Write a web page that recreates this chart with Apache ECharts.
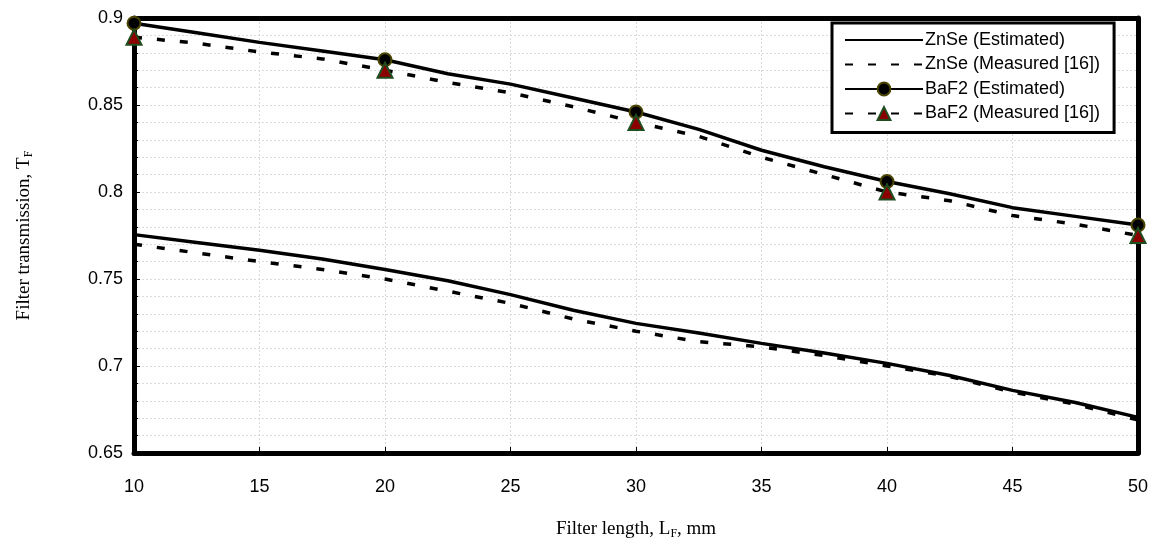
<!DOCTYPE html>
<html>
<head>
<meta charset="utf-8">
<script src="https://cdn.jsdelivr.net/npm/echarts@6/dist/echarts.min.js"></script>
<style>
  html, body { margin: 0; padding: 0; background: #fff; }
  #main { width: 1152px; height: 547px; }
</style>
</head>
<body>
<div id="main"></div>
<script>
// filter length, mm
const lengths = [10, 12.5, 15, 17.5, 20, 22.5, 25, 27.5, 30, 32.5, 35, 37.5, 40, 42.5, 45, 47.5, 50];
// filter transmission
const znseEst  = [0.7755, 0.771, 0.7665, 0.7615, 0.7555, 0.749, 0.741, 0.732, 0.7245, 0.719, 0.713, 0.7075, 0.7015, 0.6945, 0.686, 0.679, 0.6705];
const znseMeas = [0.770, 0.765, 0.760, 0.7555, 0.750, 0.743, 0.736, 0.727, 0.720, 0.714, 0.711, 0.706, 0.700, 0.694, 0.685, 0.678, 0.669];
const baf2Est  = [0.897, 0.8915, 0.886, 0.881, 0.876, 0.868, 0.862, 0.854, 0.846, 0.836, 0.824, 0.8145, 0.806, 0.799, 0.791, 0.786, 0.781];
const baf2Meas = [0.889, 0.8855, 0.8805, 0.8765, 0.870, 0.863, 0.857, 0.849, 0.840, 0.832, 0.820, 0.810, 0.800, 0.795, 0.7865, 0.7815, 0.775];
// markers only at these lengths
const markerAt = [10, 20, 30, 40, 50];

const sansFont = "'Liberation Sans', Arial, sans-serif";
const serifFont = "'Liberation Serif', 'Times New Roman', serif";

function pts(vals, marked) {
    return lengths.map(function (x, i) {
        if (marked && markerAt.indexOf(x) >= 0) return [x, vals[i]];
        return { value: [x, vals[i]], symbol: 'none' };
    });
}

let myChart = echarts.init(document.getElementById('main'));
const gridLine = { show: true, lineStyle: { color: '#dadada', type: [2, 2], width: 1 } };
const frame = { show: true, onZero: false, lineStyle: { color: '#000', width: 5 } };
const nameRich = {
    n: { fontFamily: serifFont, fontSize: 19, color: '#000' },
    s: { fontFamily: serifFont, fontSize: 12, color: '#000', padding: [9, 0, 0, 0] }
};
const hideIcon = { opacity: 0 };

myChart.setOption({
    animation: false,
    backgroundColor: '#fff',
    grid: { left: 134, right: 14, top: 18, bottom: 94 },
    legend: {
        orient: 'vertical',
        left: 832, top: 23,
        padding: [8, 14, 10, 12],
        itemWidth: 78, itemHeight: 16, itemGap: 6.5,
        backgroundColor: '#fff',
        borderColor: '#000', borderWidth: 3,
        textStyle: { fontFamily: sansFont, fontSize: 18, color: '#000', padding: [0, 0, 0, -3] },
        data: [
            { name: 'ZnSe (Estimated)', itemStyle: hideIcon },
            { name: 'ZnSe (Measured [16])', itemStyle: hideIcon },
            'BaF2 (Estimated)',
            'BaF2 (Measured [16])'
        ]
    },
    xAxis: [{
        type: 'value', min: 10, max: 50, interval: 5,
        name: '{n|Filter length, L}{s|F}{n|, mm}',
        nameLocation: 'middle', nameGap: 66,
        nameTextStyle: { rich: nameRich },
        axisLine: frame,
        axisTick: { show: true, inside: true, length: 6, lineStyle: { color: '#000' } },
        axisLabel: { fontFamily: sansFont, fontSize: 18, color: '#000', margin: 25 },
        splitLine: gridLine
    }, {
        type: 'value', min: 10, max: 50, position: 'top',
        axisLine: frame, axisTick: { show: false }, axisLabel: { show: false }, splitLine: { show: false }
    }],
    yAxis: [{
        type: 'value', min: 0.65, max: 0.9, interval: 0.05,
        name: '{n|Filter transmission, T}{s|F}',
        nameLocation: 'middle', nameGap: 99,
        nameTextStyle: { rich: nameRich },
        axisLine: frame,
        axisTick: { show: true, inside: true, length: 6, lineStyle: { color: '#000' } },
        minorTick: { show: true, splitNumber: 5, length: 4, lineStyle: { color: '#000' } },
        axisLabel: { fontFamily: sansFont, fontSize: 18, color: '#000', margin: 11 },
        splitLine: gridLine,
        minorSplitLine: gridLine
    }, {
        type: 'value', min: 0.65, max: 0.9, position: 'right',
        axisLine: frame, axisTick: { show: false }, axisLabel: { show: false }, splitLine: { show: false }
    }],
    series: [
        {
            name: 'ZnSe (Estimated)', type: 'line', clip: false,
            symbol: 'none', data: pts(znseEst, false),
            lineStyle: { color: '#000', width: 3.5 }, itemStyle: { color: '#000' }
        },
        {
            name: 'ZnSe (Measured [16])', type: 'line', clip: false,
            symbol: 'none', data: pts(znseMeas, false),
            lineStyle: { color: '#000', width: 3.5, type: [8, 15] }, itemStyle: { color: '#000' }
        },
        {
            name: 'BaF2 (Estimated)', type: 'line', clip: false, z: 3,
            symbol: 'circle', symbolSize: 13, data: pts(baf2Est, true),
            lineStyle: { color: '#000', width: 3.5 },
            itemStyle: { color: '#000', borderColor: '#4a4500', borderWidth: 2 }
        },
        {
            name: 'BaF2 (Measured [16])', type: 'line', clip: false, z: 4,
            symbol: 'triangle', symbolSize: 15, data: pts(baf2Meas, true),
            lineStyle: { color: '#000', width: 3.5, type: [8, 15] },
            itemStyle: { color: '#8b0000', borderColor: '#1f4d1f', borderWidth: 2 }
        }
    ]
});
</script>
</body>
</html>
